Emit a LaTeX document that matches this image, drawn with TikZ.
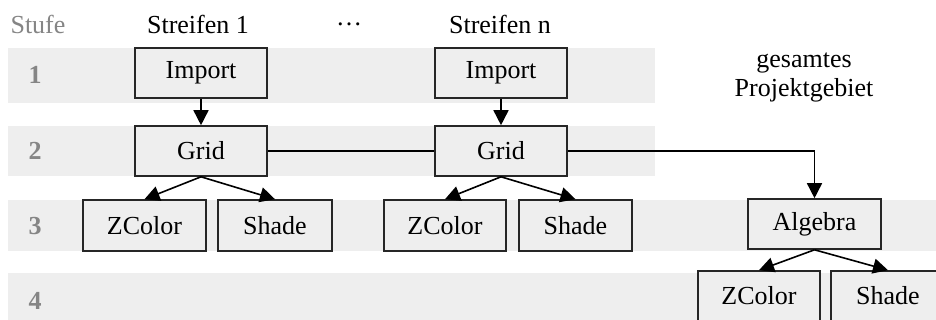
\documentclass[tikz,border=0pt]{standalone}
\usepackage{fontspec}
\setmainfont{Liberation Serif}
\usetikzlibrary{arrows.meta}
\definecolor{bandfill}{HTML}{EEEEEE}
\definecolor{labelgray}{HTML}{858585}
\begin{document}
\begin{tikzpicture}[x=1pt,y=-1pt,
  every node/.style={font=\fontsize{26}{29}\selectfont},
  band/.style={fill=bandfill,draw=none},
  modbox/.style={draw=black!85,line width=1.6pt,fill=bandfill,rectangle,
    inner sep=0pt,minimum height=50pt},
  levelnum/.style={text=labelgray,font=\fontsize{26}{29}\selectfont\bfseries},
  conn/.style={line width=1.6pt,black},
  arr/.style={conn,-{Triangle[length=15pt,width=15pt]}},
]
\useasboundingbox (0,0) rectangle (936,320);

% level bands
\fill[band] (8,48) rectangle (655,103);
\fill[band] (8,126) rectangle (655,176);
\fill[band] (8,200) rectangle (936,251);
\fill[band] (8,273) rectangle (936,322);

% headings
\node[text=labelgray] (stufe) at (38,24) {Stufe};
\node (s1) at (198,24) {Streifen 1};
\node (dots) at (349,24) {\dots};
\node (sn) at (500,24) {Streifen n};
\node[align=center] (gesamt) at (804,77) {gesamtes\\Projektgebiet};

% level numbers
\node[levelnum] (l1) at (35,75) {1};
\node[levelnum] (l2) at (35,151) {2};
\node[levelnum] (l3) at (35,226) {3};
\node[levelnum] (l4) at (35,301) {4};

% strip 1
\node[modbox,minimum width=132pt] (imp1) at (201,73) {Import};
\node[modbox,minimum width=132pt] (grid1) at (201,151) {Grid};
\node[modbox,minimum width=123pt,minimum height=51pt] (zc1) at (144.5,225.5) {ZColor};
\node[modbox,minimum width=114pt,minimum height=51pt] (sh1) at (275,225.5) {Shade};

% strip n
\node[modbox,minimum width=132pt] (impn) at (501,73) {Import};
\node[modbox,minimum width=132pt] (gridn) at (501,151) {Grid};
\node[modbox,minimum width=122pt,minimum height=51pt] (zcn) at (445,225.5) {ZColor};
\node[modbox,minimum width=113pt,minimum height=51pt] (shn) at (575.5,225.5) {Shade};

% whole project area
\node[modbox,minimum width=133pt] (alg) at (814.5,224) {Algebra};
\node[modbox,minimum width=122pt] (zc3) at (759,296) {ZColor};
\node[modbox,minimum width=114pt] (sh3) at (888,296) {Shade};

% connectors
\draw[arr] (imp1.south) -- (grid1.north);
\draw[arr] (impn.south) -- (gridn.north);
\draw[arr] (grid1.south) -- (zc1.north);
\draw[arr] (grid1.south) -- (sh1.north);
\draw[arr] (gridn.south) -- (zcn.north);
\draw[arr] (gridn.south) -- (shn.north);
\draw[conn] (grid1.east) -- (gridn.west);
\draw[arr] (gridn.east) -| (alg.north);
\draw[arr] (alg.south) -- (zc3.north);
\draw[arr] (alg.south) -- (sh3.north);
\end{tikzpicture}
\end{document}
